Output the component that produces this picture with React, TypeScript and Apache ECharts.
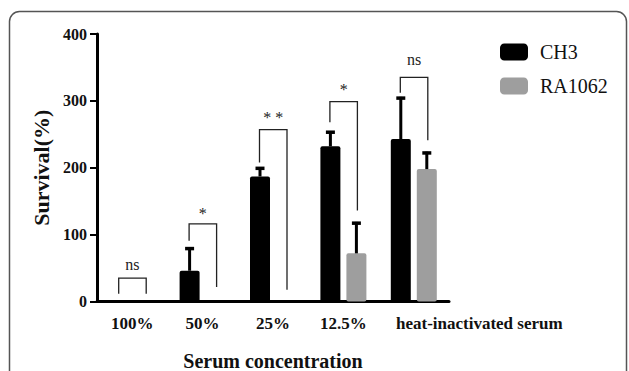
import React, { useEffect, useRef } from "react";
import * as echarts from "echarts";

const categories = ["100%", "50%", "25%", "12.5%", "heat-inactivated serum"];
const ch3Mean = [0, 46, 187, 232, 243];
const ch3SD = [0, 35, 14, 23, 63];
const raMean = [0, 0, 0, 72, 198];
const raSD = [0, 0, 0, 47, 26];
const yMin = 0;
const yMax = 400;
const yInterval = 100;
const sigLabels = ["ns", "*", "* *", "*", "ns"];
const bracketTop = [35, 116, 257, 299, 335];
const bracketLeftEnd = [11.5, 91, 208, 268, 312];
const bracketRightEnd = [11.5, 21.6, 17.5, 136, 241];
const sigLabelY = [55, 131, 275, 317, 362];

const FONT = "Liberation Serif";
const BAR_W = 20;
const HALF = 13;

export default function App() {
  const ref = useRef<HTMLDivElement>(null);
  useEffect(() => {
    document.body.style.margin = "0";
    const chart = echarts.init(ref.current!, null, { renderer: "svg" });

    const errData = (means: number[], sds: number[]) =>
      means.map((m, i) => [i, m, m + sds[i], sds[i]]);

    const errRender = (side: number) => (params: any, api: any) => {
      const sd = api.value(3);
      if (!sd) return null;
      const i = api.value(0);
      const p0 = api.coord([i, api.value(1)]);
      const p1 = api.coord([i, api.value(2)]);
      const x = p0[0] + side * HALF;
      return {
        type: "group",
        children: [
          {
            type: "line",
            shape: { x1: x, y1: p0[1], x2: x, y2: p1[1] },
            style: { stroke: "#000", lineWidth: 3 },
          },
          {
            type: "rect",
            shape: { x: x - 4.5, y: p1[1] - 0.5, width: 9, height: 3.5 },
            style: { fill: "#000" },
          },
        ],
      };
    };

    const bracketData = categories.map((_, i) => [
      i,
      bracketTop[i],
      bracketLeftEnd[i],
      bracketRightEnd[i],
      sigLabelY[i],
    ]);

    chart.setOption({
      animation: false,
      textStyle: { fontFamily: FONT },
      grid: {
        left: 97,
        right: 180,
        top: 34,
        bottom: 69.5,
        containLabel: false,
        outerBoundsMode: "none",
      },
      graphic: [
        {
          type: "rect",
          shape: { x: 9.5, y: 11.5, width: 617, height: 420, r: 10 },
          style: { fill: "none", stroke: "#555", lineWidth: 1.5 },
          silent: true,
          z: 100,
        },
      ],
      legend: {
        data: ["CH3", "RA1062"],
        orient: "vertical",
        left: 500,
        top: 42,
        padding: 0,
        itemWidth: 28,
        itemHeight: 17,
        itemGap: 14,
        textStyle: {
          fontFamily: FONT,
          fontSize: 20,
          color: "#111",
          padding: [0, 0, 0, 7],
        },
      },
      xAxis: {
        type: "category",
        data: categories,
        name: "Serum concentration",
        nameLocation: "middle",
        nameGap: 49,
        nameTextStyle: {
          fontFamily: FONT,
          fontSize: 20,
          fontWeight: "bold",
          color: "#111",
        },
        axisLine: { lineStyle: { color: "#000", width: 3 } },
        axisTick: {
          alignWithLabel: true,
          length: 6,
          lineStyle: { color: "#000", width: 2 },
        },
        axisLabel: {
          interval: 0,
          margin: 13,
          fontFamily: FONT,
          fontSize: 17,
          fontWeight: "bold",
          color: "#111",
          formatter: (v: string, i: number) =>
            i === categories.length - 1 ? "{h|" + v + "}" : v,
          rich: {
            h: {
              fontFamily: FONT,
              fontSize: 17,
              fontWeight: "bold",
              color: "#111",
              padding: [0, 0, 0, 131],
            },
          },
        },
      },
      yAxis: {
        type: "value",
        min: yMin,
        max: yMax,
        interval: yInterval,
        name: "Survival(%)",
        nameLocation: "middle",
        nameGap: 43,
        nameRotate: 90,
        nameTextStyle: {
          fontFamily: FONT,
          fontSize: 22,
          fontWeight: "bold",
          color: "#111",
        },
        axisLine: { show: true, lineStyle: { color: "#000", width: 3 } },
        axisTick: { show: true, length: 7, lineStyle: { color: "#000", width: 2 } },
        splitLine: { show: false },
        axisLabel: {
          margin: 10,
          fontFamily: FONT,
          fontSize: 16,
          fontWeight: "bold",
          color: "#111",
        },
      },
      series: [
        {
          name: "CH3",
          type: "bar",
          data: ch3Mean,
          barWidth: BAR_W,
          barGap: "30%",
          itemStyle: { color: "#000", borderRadius: 2 },
        },
        {
          name: "RA1062",
          type: "bar",
          data: raMean,
          barWidth: BAR_W,
          barGap: "30%",
          itemStyle: { color: "#9e9e9e", borderRadius: 2 },
        },
        {
          name: "errCH3",
          type: "custom",
          data: errData(ch3Mean, ch3SD),
          encode: { x: 0, y: [1, 2] },
          renderItem: errRender(-1),
          z: 5,
          silent: true,
        },
        {
          name: "errRA",
          type: "custom",
          data: errData(raMean, raSD),
          encode: { x: 0, y: [1, 2] },
          renderItem: errRender(1),
          z: 5,
          silent: true,
        },
        {
          name: "sig",
          type: "custom",
          data: bracketData,
          encode: { x: 0, y: [1, 2, 3] },
          silent: true,
          z: 6,
          clip: false,
          renderItem: (params: any, api: any) => {
            const i = api.value(0);
            const top = api.coord([i, api.value(1)]);
            const lb = api.coord([i, api.value(2)]);
            const rb = api.coord([i, api.value(3)]);
            const ly = api.coord([i, api.value(4)]);
            const xl = top[0] - 13.5;
            const xr = top[0] + 14;
            return {
              type: "group",
              children: [
                {
                  type: "polyline",
                  shape: {
                    points: [
                      [xl, lb[1]],
                      [xl, top[1]],
                      [xr, top[1]],
                      [xr, rb[1]],
                    ],
                  },
                  style: { stroke: "#222", lineWidth: 1.3, fill: "none" },
                },
                {
                  type: "text",
                  style: {
                    x: (xl + xr) / 2,
                    y: ly[1],
                    text: sigLabels[params.dataIndex],
                    align: "center",
                    verticalAlign: "middle",
                    fontFamily: FONT,
                    fontSize: 16,
                    fill: "#222",
                  },
                },
              ],
            };
          },
        },
      ],
    });
    return () => chart.dispose();
  }, []);
  return <div ref={ref} style={{ width: 629, height: 371 }} />;
}
